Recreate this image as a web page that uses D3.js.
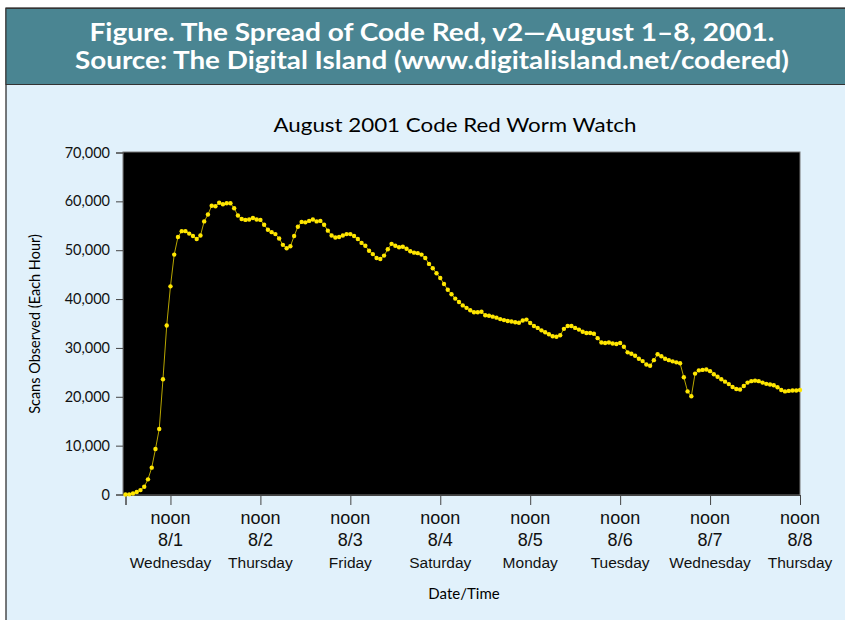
<!DOCTYPE html>
<html>
<head>
<meta charset="utf-8">
<script src="https://cdn.jsdelivr.net/npm/d3@7"></script>
<style>
  html, body { margin: 0; padding: 0; background: #fff; }
  svg { display: block; font-family: Lato, "Open Sans", sans-serif; }
</style>
</head>
<body>
<svg id="chart" width="845" height="620"></svg>
<script>
// hourly scans, midnight 8/1 (hour 0) to noon 8/8 (hour 180)
const scans = [
  0, 30, 200, 500, 900, 1600, 3100, 5500, 9300, 13400,
  23600, 34600, 42600, 49100, 52700, 53900, 53900, 53400, 52900, 52300,
  53000, 55900, 57300, 59100, 59000, 59700, 59400, 59600, 59600, 58600,
  57100, 56400, 56200, 56300, 56600, 56300, 56200, 55200, 54200, 53700,
  53300, 52400, 51100, 50400, 50800, 52900, 54800, 55800, 55700, 56000,
  56300, 55900, 56000, 55200, 54000, 53000, 52600, 52700, 53000, 53300,
  53300, 52900, 52300, 51500, 50900, 49900, 49200, 48400, 48200, 48900,
  50200, 51300, 50900, 50600, 50700, 50300, 49800, 49500, 49400, 49100,
  48400, 47200, 46300, 45300, 44300, 43100, 41900, 41000, 40100, 39400,
  38700, 38200, 37700, 37300, 37300, 37400, 36700, 36600, 36400, 36200,
  35900, 35700, 35500, 35400, 35250, 35150, 35600, 35800, 35100, 34500,
  34100, 33600, 33200, 32800, 32400, 32300, 32600, 33900, 34500, 34500,
  34100, 33750, 33300, 33050, 33050, 32900, 32000, 31100, 31000, 31100,
  30900, 30800, 31000, 30250, 29100, 28800, 28400, 27800, 27300, 26600,
  26350, 27500, 28700, 28300, 27800, 27500, 27250, 27050, 26850, 24000,
  21100, 20100, 24750, 25400, 25500, 25600, 25250, 24600, 24100, 23600,
  23100, 22600, 22000, 21600, 21500, 22200, 22900, 23200, 23300, 23200,
  22900, 22650, 22500, 22350, 21950, 21400, 21100, 21200, 21300, 21300,
  21400
];

const noonHours = [12, 36, 60, 84, 108, 132, 156, 180];
const dateLabels = ["8/1", "8/2", "8/3", "8/4", "8/5", "8/6", "8/7", "8/8"];
const dayLabels = ["Wednesday", "Thursday", "Friday", "Saturday", "Monday", "Tuesday", "Wednesday", "Thursday"];
const yTicks = [0, 10000, 20000, 30000, 40000, 50000, 60000, 70000];

const headerLines = [
  "Figure. The Spread of Code Red, v2\u2014August 1\u20138, 2001.",
  "Source: The Digital Island (www.digitalisland.net/codered)"
];
const chartTitle = "August 2001 Code Red Worm Watch";

const svg = d3.select("#chart");

// frame
svg.append("rect")
    .attr("x", 6).attr("y", 8)
    .attr("width", 845).attr("height", 620)
    .attr("fill", "#e1f1fb")
    .attr("stroke", "#222").attr("stroke-width", 1.2);

svg.append("rect")
    .attr("x", 6).attr("y", 8.5)
    .attr("width", 845).attr("height", 76)
    .attr("fill", "#4a8592")
    .attr("stroke", "#333").attr("stroke-width", 1);

svg.selectAll(".hdr")
    .data(headerLines)
    .enter()
    .append("text")
    .attr("class", "hdr")
    .attr("x", 432)
    .attr("y", (d, i) => 41 + i * 28)
    .attr("text-anchor", "middle")
    .attr("fill", "#fff")
    .attr("font-weight", "bold")
    .attr("font-size", 24)
    .attr("textLength", (d, i) => i === 0 ? 685 : 714)
    .attr("lengthAdjust", "spacingAndGlyphs")
    .text(d => d);

svg.append("text")
    .attr("x", 455)
    .attr("y", 132)
    .attr("text-anchor", "middle")
    .attr("font-size", 19)
    .attr("textLength", 363)
    .attr("lengthAdjust", "spacingAndGlyphs")
    .text(chartTitle);

// plot area
const plot = { left: 123, right: 800, top: 152, bottom: 495 };

const xScale = d3.scaleLinear()
    .domain([0, 180])
    .range([plot.left + 2.5, plot.right]);

const yScale = d3.scaleLinear()
    .domain([0, 70000])
    .range([plot.bottom - 0.5, plot.top + 0.5]);

svg.append("rect")
    .attr("x", plot.left).attr("y", plot.top)
    .attr("width", plot.right - plot.left)
    .attr("height", plot.bottom - plot.top)
    .attr("fill", "#000")
    .attr("stroke", "#777").attr("stroke-width", 1);

// y axis
const yAxis = svg.append("g")
    .attr("transform", "translate(" + plot.left + ",0)")
    .call(d3.axisLeft(yScale).tickValues(yTicks).tickSize(7).tickPadding(6).tickFormat(d3.format(",")));
yAxis.select(".domain").attr("stroke", "#444");
yAxis.selectAll(".tick line").attr("stroke", "#444");
yAxis.selectAll(".tick text")
    .attr("font-size", 14.5)
    .attr("font-family", "Lato, sans-serif")
    .attr("fill", "#111");

// x axis
const xAxis = svg.append("g")
    .attr("transform", "translate(0," + plot.bottom + ")")
    .call(d3.axisBottom(xScale).tickValues([0].concat(noonHours)).tickSize(10).tickFormat(""));
xAxis.select(".domain").attr("stroke", "#444");
xAxis.selectAll(".tick line").attr("stroke", "#444");

const labelGroups = xAxis.selectAll(".lbl")
    .data(noonHours)
    .enter()
    .append("g")
    .attr("class", "lbl")
    .attr("transform", d => "translate(" + xScale(d) + ",0)")
    .attr("text-anchor", "middle")
    .attr("fill", "#111");

labelGroups.append("text").attr("y", 29).attr("font-size", 18).text("noon");
labelGroups.append("text").attr("y", 51).attr("font-size", 18).text((d, i) => dateLabels[i]);
labelGroups.append("text").attr("y", 73).attr("font-size", 15.5).text((d, i) => dayLabels[i]);

svg.append("text")
    .attr("x", 464)
    .attr("y", 599)
    .attr("text-anchor", "middle")
    .attr("font-size", 15)
    .text("Date/Time");

svg.append("text")
    .attr("transform", "translate(40,324) rotate(-90)")
    .attr("text-anchor", "middle")
    .attr("font-size", 14.5)
    .text("Scans Observed (Each Hour)");

// series
const line = d3.line()
    .x((d, i) => xScale(i))
    .y(d => yScale(d));

svg.append("path")
    .datum(scans)
    .attr("fill", "none")
    .attr("stroke", "#b8a600")
    .attr("stroke-width", 1)
    .attr("d", line);

svg.selectAll(".dot")
    .data(scans)
    .enter()
    .append("circle")
    .attr("class", "dot")
    .attr("cx", (d, i) => xScale(i))
    .attr("cy", d => yScale(d))
    .attr("r", 2.2)
    .attr("fill", "#ffe600");
</script>
</body>
</html>
